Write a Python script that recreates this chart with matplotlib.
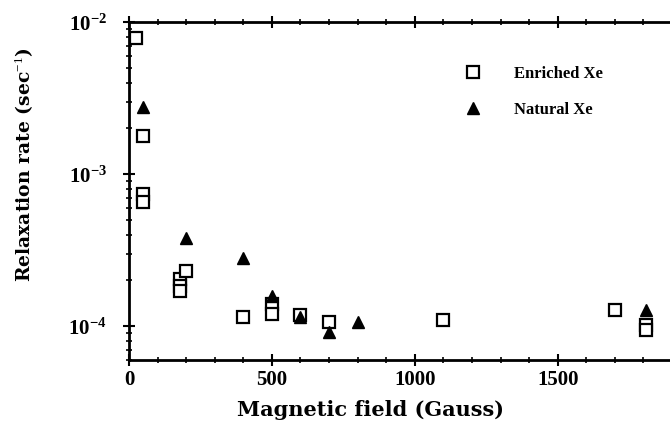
import matplotlib as mpl

mpl.use('Agg')
import matplotlib.pyplot as plt
import numpy as np

# enriched Xe (open squares)
enr_field = [25, 50, 50, 50, 180, 180, 180, 200, 400, 500, 500, 600, 700, 1100, 1700, 1810, 1810]
enr_rate = [7.85e-3, 1.78e-3, 7.4e-4, 6.6e-4, 2.05e-4, 1.85e-4, 1.7e-4, 2.3e-4, 1.15e-4,
            1.4e-4, 1.2e-4, 1.18e-4, 1.07e-4, 1.1e-4, 1.27e-4, 1.02e-4, 9.4e-5]
# natural Xe (filled triangles)
nat_field = [50, 200, 400, 500, 600, 700, 800, 1810]
nat_rate = [2.76e-3, 3.8e-4, 2.8e-4, 1.58e-4, 1.15e-4, 9.1e-5, 1.07e-4, 1.27e-4]

serif = 'Liberation Serif'
plt.rcParams['mathtext.fontset'] = 'custom'
plt.rcParams['mathtext.bf'] = serif + ':bold'
plt.rcParams['mathtext.rm'] = serif

fig = plt.figure(figsize=(6.7, 4.23), dpi=100)
ax = fig.add_axes([0.1925, 0.149, 0.8075, 0.799])

ax.semilogy(enr_field, enr_rate, 's', mfc='white', mec='black', mew=1.6, ms=9,
            linestyle='none', label='Enriched Xe')
ax.semilogy(nat_field, nat_rate, '^', color='black', ms=8,
            linestyle='none', label='Natural Xe')

ax.set_xlim(0, 1893)
ax.set_ylim(6.0e-5, 1e-2)
ax.set_xticks([0, 500, 1000, 1500])
ax.set_xticks(np.arange(0, 1900, 100), minor=True)
ax.set_yticks([1e-4, 1e-3, 1e-2])
ax.set_yticklabels(['$\\mathbf{10^{-4}}$', '$\\mathbf{10^{-3}}$', '$\\mathbf{10^{-2}}$'])
for lab in ax.get_xticklabels():
    lab.set_fontfamily(serif)
    lab.set_fontweight('bold')
ax.tick_params(which='major', direction='inout', length=8, width=1.5, labelsize=15)
ax.tick_params(which='minor', direction='inout', length=4, width=1.2)
ax.tick_params(axis='x', which='both', top=True)
ax.tick_params(axis='y', labelsize=15, pad=12)
for side in ['left', 'bottom', 'top']:
    ax.spines[side].set_linewidth(2)
ax.spines['right'].set_visible(False)

ax.set_xlabel('Magnetic field (Gauss)', family='DejaVu Serif', weight='bold', fontsize=15,
              va='center')
ax.set_ylabel('Relaxation rate (sec$^{-1}$)', family='DejaVu Serif', weight='bold', fontsize=13.5,
              va='center')
ax.xaxis.set_label_coords(0.447, -0.148)
ax.yaxis.set_label_coords(-0.194, 0.577)

leg = ax.legend(loc='upper left', bbox_to_anchor=(0.577, 0.915), frameon=False,
                prop={'family': serif, 'weight': 'bold', 'size': 12},
                handletextpad=1.5, labelspacing=1.2)

plt.savefig('out.png', dpi=100)
